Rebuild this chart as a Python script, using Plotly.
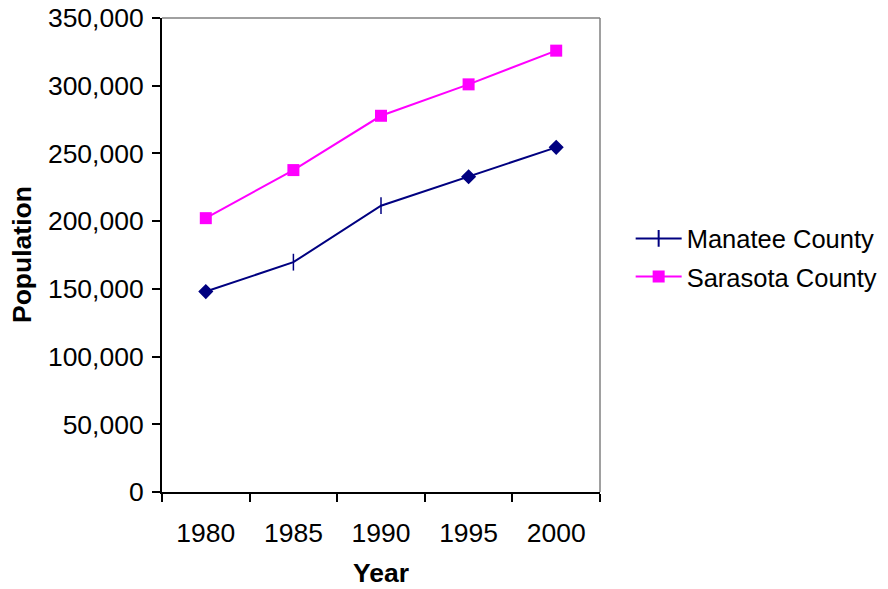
import plotly.graph_objects as go

years = ["1980", "1985", "1990", "1995", "2000"]
manatee = [148000, 169700, 211400, 232800, 254500]
sarasota = [202200, 237700, 277800, 301000, 325900]
manatee_symbols = ["diamond", "line-ns-open", "line-ns-open", "diamond", "diamond"]
manatee_sizes = [10, 12, 12, 10, 10]
y_ticks = [0, 50000, 100000, 150000, 200000, 250000, 300000, 350000]

NAVY = "#000080"
MAGENTA = "#FF00FF"
FONT = "Liberation Sans, Arial, sans-serif"
FS = 26.5

fig = go.Figure()
fig.add_trace(go.Scatter(
    x=years, y=manatee, name="Manatee County", mode="lines+markers",
    showlegend=False,
    line=dict(color=NAVY, width=2),
    marker=dict(symbol=manatee_symbols, size=manatee_sizes, color=NAVY,
                opacity=1, line=dict(color=NAVY, width=1.5)),
))
# legend-only entry showing the Manatee legend key (no points drawn)
fig.add_trace(go.Scatter(
    x=[None], y=[None], name="Manatee County", mode="lines+markers",
    legendgroup="a",
    line=dict(color=NAVY, width=2),
    marker=dict(symbol="line-ns-open", size=12, color=NAVY,
                line=dict(color=NAVY, width=2)),
))
fig.add_trace(go.Scatter(
    x=years, y=sarasota, name="Sarasota County", mode="lines+markers",
    legendgroup="b",
    line=dict(color=MAGENTA, width=2),
    marker=dict(symbol="square", size=12, color=MAGENTA, opacity=1, line=dict(width=0)),
))

fig.update_layout(
    width=880, height=581,
    margin=dict(l=154, r=288, t=10, b=97, autoexpand=False),
    plot_bgcolor="white", paper_bgcolor="white",
    font=dict(family=FONT, size=FS, color="black"),
    showlegend=True,
    legend=dict(x=1.07, y=0.494, xanchor="left", yanchor="middle",
                font=dict(size=25.5, family=FONT), itemwidth=46,
                traceorder="grouped", tracegroupgap=2,
                bgcolor="rgba(0,0,0,0)"),
    shapes=[
        dict(type="line", xref="paper", yref="paper", x0=0, x1=1, y0=1, y1=1,
             line=dict(color="#808080", width=1.5)),
        dict(type="line", xref="paper", yref="paper", x0=1, x1=1, y0=0, y1=1,
             line=dict(color="#808080", width=1.5)),
    ],
    annotations=[
        dict(text="<b>Population</b>", xref="paper", yref="paper",
             x=-0.3196, y=0.5, textangle=-90, showarrow=False,
             xanchor="center", yanchor="middle", font=dict(size=FS, family=FONT)),
        dict(text="<b>Year</b>", xref="paper", yref="paper",
             x=0.5, y=-0.171, showarrow=False,
             xanchor="center", yanchor="middle", font=dict(size=FS, family=FONT)),
    ],
)

fig.update_xaxes(
    type="category", range=[-0.5, 4.5], tickson="boundaries", ticks="outside", ticklen=8,
    tickwidth=2, tickcolor="black", showline=True, linecolor="black",
    linewidth=2, showgrid=False, zeroline=False, automargin=False,
    ticklabelstandoff=16, ticklabeloverflow="allow",
    tickfont=dict(size=FS, family=FONT),
)
fig.update_yaxes(
    range=[0, 350000], tickvals=y_ticks, tickformat=",d",
    ticks="outside", ticklen=8, tickwidth=2, tickcolor="black",
    showline=True, linecolor="black", linewidth=2,
    showgrid=False, zeroline=False, automargin=False,
    ticklabelstandoff=3, ticklabeloverflow="allow",
    tickfont=dict(size=FS, family=FONT),
)

fig.write_html("out.html")
